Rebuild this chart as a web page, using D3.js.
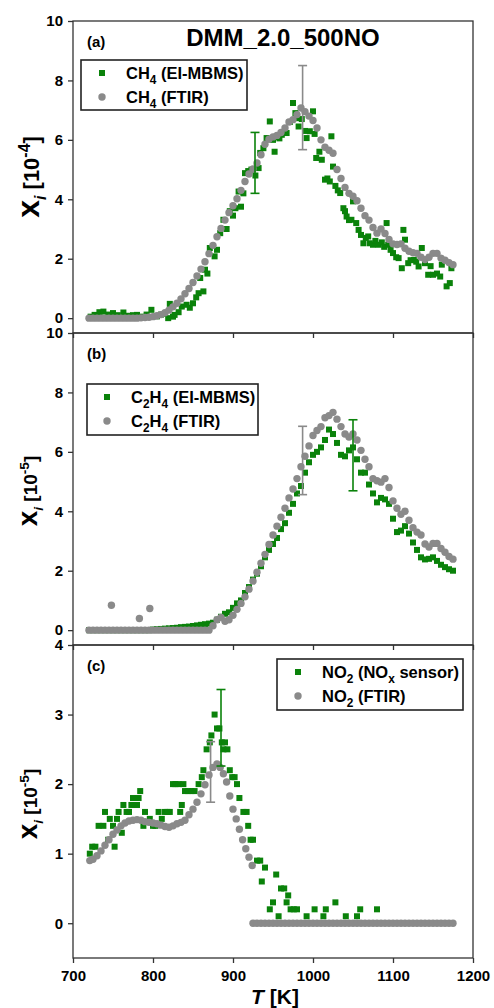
<!DOCTYPE html>
<html><head><meta charset="utf-8">
<script src="https://cdn.jsdelivr.net/npm/d3@7"></script>
<style>
body{margin:0;background:#fff}
svg{display:block}
text{font-family:"Liberation Sans",Arial,sans-serif;font-weight:bold;fill:#000}
</style>
</head><body><svg id="chart" width="494" height="1008"></svg>
<script>
// ---------------- DATA ----------------
const xTicks = [700, 800, 900, 1000, 1100, 1200];
const yTicksA = [0, 2, 4, 6, 8, 10];
const yTicksB = [0, 2, 4, 6, 8, 10];
const yTicksC = [0, 1, 2, 3, 4];

// (a) CH4, 10^-4
const ch4Ftir = [[720,0],[725,0],[730,0],[735,0],[740,0],[745,0],[750,0],[755,0],[760,0],[765,0],[770,0],[775,0],[780,0],[785,0.01],
[790,0.02],[795,0.03],[800,0.05],[805,0.08],[810,0.12],[815,0.18],[820,0.27],[825,0.38],[830,0.5],[835,0.65],[840,0.82],[845,1.0],
[850,1.2],[855,1.42],[860,1.65],[865,1.9],[870,2.17],[875,2.45],[880,2.74],[885,3.02],[890,3.3],[895,3.55],[900,3.78],[905,4.02],
[910,4.3],[915,4.6],[920,4.85],[925,5.02],[930,5.22],[935,5.5],[940,5.85],[945,6.02],[950,6.1],[955,6.15],[960,6.25],[965,6.4],
[970,6.6],[975,6.68],[980,6.85],[985,7.07],[990,6.95],[995,6.8],[1000,6.65],[1005,6.4],[1010,6.0],[1015,5.75],[1020,5.65],[1025,5.55],
[1030,5.0],[1035,4.7],[1040,4.4],[1045,4.2],[1050,4.1],[1055,3.95],[1060,3.7],[1065,3.45],[1070,3.3],[1075,3.05],[1080,2.86],[1085,3.0],
[1090,2.85],[1095,2.65],[1100,2.5],[1105,2.48],[1110,2.5],[1115,2.35],[1120,2.25],[1125,2.2],[1130,2.18],[1135,2.05],[1140,1.97],
[1145,2.05],[1150,2.18],[1155,2.18],[1160,2.02],[1165,1.95],[1170,1.87],[1175,1.8]];
const ch4Mbms = [[722,0.05],[727,0.11],[733,0.2],[738,0.22],[744,0.12],[750,0.17],[756,0.1],[763,0.19],[769,0.08],[775,0.1],[780,0.11],
[786,0.05],[792,0.12],[798,0.28],[805,0.06],[810,0.12],[815,0.15],[819,0.0],[821,0.48],[825,0.05],[827,0.11],[832,0.2],[836,0.39],
[842,0.45],[846,0.35],[850,0.5],[854,0.7],[857,0.84],[859,1.35],[863,0.9],[865,1.63],[868,1.5],[871,2.36],[877,2.08],[880,2.3],
[884,2.86],[888,3.31],[892,3.0],[896,3.6],[900,3.45],[903,3.7],[907,4.26],[910,3.75],[913,4.2],[915,4.88],[919,4.95],[923,5.0],
[928,4.8],[932,5.05],[934,5.56],[938,5.72],[942,6.06],[946,6.62],[950,6.0],[952,5.6],[954,6.1],[958,6.05],[961,6.17],[965,6.3],
[967,6.23],[971,6.6],[975,7.24],[978,6.9],[980,6.73],[982,6.45],[986,6.7],[990,6.3],[992,6.06],[996,6.29],[1000,6.96],[1002,6.2],
[1004,5.39],[1008,5.6],[1011,5.33],[1015,4.66],[1018,4.7],[1021,4.6],[1023,6.12],[1025,5.1],[1028,4.45],[1031,4.3],[1034,4.21],
[1038,3.7],[1040,3.6],[1042,3.42],[1045,3.3],[1048,3.31],[1050,3.93],[1054,3.2],[1057,2.97],[1060,2.8],[1063,2.52],[1066,2.7],
[1069,2.75],[1071,2.52],[1075,2.47],[1078,2.6],[1082,2.47],[1086,2.55],[1089,2.4],[1092,3.2],[1094,2.47],[1097,2.3],[1100,2.19],
[1104,2.05],[1107,2.02],[1111,1.68],[1113,2.97],[1115,2.64],[1119,1.85],[1122,1.95],[1126,1.96],[1129,1.9],[1132,1.74],[1136,2.36],
[1140,1.85],[1144,1.46],[1147,1.75],[1150,1.46],[1155,1.5],[1159,1.4],[1161,1.8],[1167,1.07],[1171,1.18],[1173,1.68]];
const ch4ErrMbms = [[927.5,4.2,6.25]];
const ch4ErrFtir = [[987,5.67,8.5]];

// (b) C2H4, 10^-5
const c2h4Ftir = [[720,0],[725,0],[730,0],[735,0],[740,0],[745,0],[748,0.84],[750,0],[755,0],[760,0],[765,0],[770,0],[775,0],[780,0],
[783,0.39],[785,0],[790,0],[795,0],[796,0.73],[800,0],[805,0],[810,0],[815,0],[820,0],[825,0],[830,0],[835,0],[840,0],[845,0],[850,0],
[855,0],[860,0],[865,0],[870,0],[875,0.15],[880,0.35],[885,0.43],[890,0.3],[895,0.35],[900,0.5],[905,0.7],[910,0.9],[915,1.12],
[920,1.38],[925,1.65],[930,1.95],[935,2.25],[940,2.55],[945,2.88],[950,3.2],[955,3.5],[960,3.8],[965,4.1],[970,4.45],[975,4.75],
[980,5.1],[985,5.5],[990,5.85],[995,6.2],[1000,6.55],[1005,6.72],[1010,6.85],[1015,7.15],[1020,7.22],[1025,7.33],[1030,7.1],
[1035,6.85],[1040,6.6],[1045,6.5],[1050,6.6],[1055,6.4],[1060,6.05],[1065,5.75],[1070,5.5],[1075,5.1],[1080,5.03],[1085,4.98],
[1090,5.1],[1095,4.8],[1100,4.35],[1105,4.1],[1110,3.9],[1115,4.0],[1120,3.7],[1125,3.45],[1130,3.3],[1135,3.2],[1140,2.9],
[1145,2.8],[1150,2.92],[1155,2.92],[1160,2.75],[1165,2.62],[1170,2.48],[1175,2.39]];
const c2h4Mbms = [[720,0],[725,0],[730,0],[735,0],[740,0],[745,0],[750,0],[755,0],[760,0],[765,0],[770,0],[775,0],[780,0],[785,0],
[790,0],[795,0],[800,0.02],[805,0.03],[810,0.04],[815,0.05],[820,0.06],[825,0.07],[830,0.08],[835,0.1],[840,0.11],[845,0.12],
[850,0.14],[855,0.16],[860,0.18],[865,0.2],[870,0.22],[875,0.25],[880,0.35],[885,0.45],[890,0.55],[895,0.6],[900,0.75],[905,0.9],
[910,1.0],[915,1.25],[920,1.45],[925,1.7],[930,1.9],[935,2.15],[940,2.45],[945,2.7],[950,2.9],[955,3.1],[960,3.4],[965,3.6],
[970,3.95],[975,4.25],[980,4.6],[985,4.85],[990,5.3],[995,5.65],[1000,5.9],[1005,6.0],[1010,6.15],[1015,6.4],[1020,6.75],[1025,6.6],
[1030,6.3],[1035,5.9],[1040,5.85],[1045,6.05],[1050,6.15],[1055,5.75],[1060,5.3],[1065,5.3],[1070,4.9],[1075,4.6],[1080,4.3],
[1085,4.45],[1090,4.4],[1095,4.25],[1100,3.75],[1105,3.3],[1110,3.35],[1115,3.5],[1120,3.25],[1125,2.95],[1130,2.7],[1135,2.45],
[1140,2.38],[1145,2.4],[1150,2.45],[1155,2.33],[1160,2.2],[1165,2.12],[1170,2.05],[1175,2.0]];
const c2h4ErrFtir = [[987,4.56,6.86]];
const c2h4ErrMbms = [[1050,4.69,7.08]];

// (c) NO2, 10^-5
const no2Ftir = [[721,0.9],[725,0.92],[730,0.97],[735,1.04],[740,1.12],[745,1.2],[750,1.28],[755,1.34],[760,1.4],[765,1.44],[770,1.47],
[775,1.48],[780,1.49],[785,1.48],[790,1.46],[795,1.45],[800,1.44],[805,1.43],[810,1.41],[815,1.39],[820,1.38],[825,1.4],[830,1.43],
[835,1.45],[840,1.48],[845,1.56],[850,1.64],[855,1.74],[860,1.86],[865,1.99],[870,2.13],[875,2.24],[880,2.29],[884,2.24],[888,2.15],
[892,2.03],[896,1.83],[900,1.64],[904,1.5],[908,1.35],[912,1.2],[916,1.07],[920,0.95],[924,0.83],
[925,0],[930,0],[935,0],[940,0],[945,0],[950,0],[955,0],[960,0],[965,0],[970,0],[975,0],[980,0],[985,0],[990,0],[995,0],[1000,0],
[1005,0],[1010,0],[1015,0],[1020,0],[1025,0],[1030,0],[1035,0],[1040,0],[1045,0],[1050,0],[1055,0],[1060,0],[1065,0],[1070,0],
[1075,0],[1080,0],[1085,0],[1090,0],[1095,0],[1100,0],[1105,0],[1110,0],[1115,0],[1120,0],[1125,0],[1130,0],[1135,0],[1140,0],
[1145,0],[1150,0],[1155,0],[1160,0],[1165,0],[1170,0],[1175,0]];
const no2Sensor = [[721,1.0],[724,1.1],[728,1.1],[732,1.4],[738,1.4],[740,1.6],[744,1.2],[746,1.5],[750,1.4],[752,1.1],[755,1.5],
[757,1.6],[761,1.3],[763,1.7],[767,1.6],[770,1.6],[773,1.7],[775,1.8],[780,1.7],[782,1.8],[784,1.9],[788,1.4],[790,1.6],[796,1.5],
[800,1.4],[803,1.4],[807,1.6],[811,1.5],[815,1.6],[818,1.6],[821,1.6],[825,2.0],[828,2.0],[832,2.0],[834,1.6],[836,1.7],[838,2.0],
[840,1.9],[844,1.9],[848,1.9],[852,1.9],[857,2.0],[861,2.1],[863,2.2],[867,2.5],[871,2.6],[873,2.7],[877,3.0],[880,2.8],[883,2.8],
[886,2.6],[888,2.5],[890,2.6],[893,2.5],[896,2.2],[899,2.1],[902,2.1],[905,2.0],[908,1.8],[913,1.6],[917,1.6],[919,1.4],[922,1.2],
[925,1.2],[930,0.9],[934,0.9],[936,0.6],[940,0.8],[946,0.2],[950,0.3],[954,0.7],[957,0.1],[960,0.5],[964,0.5],[967,0.3],[969,0.4],
[972,0.2],[976,0.2],[980,0.2],[992,0.1],[1002,0.2],[1013,0.1],[1016,0.2],[1028,0.3],[1041,0.1],[1055,0.1],[1059,0.2],[1080,0.2]];
const no2ErrFtir = [[872,1.74,2.61]];
const no2ErrSensor = [[885,2.26,3.36]];

// ---------------- DRAW ----------------
const GREEN = "#0a820a", GREY = "#8a8a8a", FRAME = "#333";
const svg = d3.select("#chart");
const x = d3.scaleLinear().domain([700, 1200]).range([73, 473]);

function rich(g, parts, fs) {
  const t = g.append("text").attr("font-size", fs);
  let shift = 0;
  parts.forEach(p => {
    const small = p.sub || p.sup;
    const sz = p.fs || (small ? fs * 0.72 : fs);
    const target = p.sub ? fs * 0.3 : p.sup ? -fs * 0.42 : 0;
    const ts = t.append("tspan").text(p.t).attr("font-size", sz).attr("dy", target - shift);
    shift = target;
    if (p.it) ts.attr("font-style", "italic");
  });
  return t;
}

const panels = [
  {top: 21, bottom: 333, domain: [-0.5, 10], ticks: yTicksA, green: ch4Mbms, grey: ch4Ftir,
   errG: ch4ErrMbms, errR: ch4ErrFtir, label: "(a)", ylab: {x: 39, y: 177, fs: 22, xfs: 32, exp: "-4"},
   legend: {x: 81, y: 60, w: 166, h: 50, mx: 102, tx: 126, rows: [
     [{t: "CH"}, {t: "4", sub: true}, {t: " (EI-MBMS)"}], [{t: "CH"}, {t: "4", sub: true}, {t: " (FTIR)"}]]}},
  {top: 333, bottom: 645, domain: [-0.5, 10], ticks: yTicksB, green: c2h4Mbms, grey: c2h4Ftir,
   errG: c2h4ErrMbms, errR: c2h4ErrFtir, label: "(b)", ylab: {x: 37, y: 491, fs: 19, xfs: 28, exp: "-5"},
   legend: {x: 87, y: 384, w: 171, h: 51, mx: 107, tx: 131, rows: [
     [{t: "C"}, {t: "2", sub: true}, {t: "H"}, {t: "4", sub: true}, {t: " (EI-MBMS)"}],
     [{t: "C"}, {t: "2", sub: true}, {t: "H"}, {t: "4", sub: true}, {t: " (FTIR)"}]]}},
  {top: 645, bottom: 958, domain: [-0.5, 4], ticks: yTicksC, green: no2Sensor, grey: no2Ftir,
   errG: no2ErrSensor, errR: no2ErrFtir, label: "(c)", ylab: {x: 37, y: 804, fs: 19, xfs: 28, exp: "-5"},
   legend: {x: 277, y: 659, w: 186, h: 51, mx: 298, tx: 322, rows: [
     [{t: "NO"}, {t: "2", sub: true}, {t: " (NO"}, {t: "x", sub: true}, {t: " sensor)"}],
     [{t: "NO"}, {t: "2", sub: true}, {t: " (FTIR)"}]]}}
];

panels.forEach((p, i) => {
  const y = d3.scaleLinear().domain(p.domain).range([p.bottom, p.top]);
  const g = svg.append("g");

  // data: green squares then grey circles
  const S = 6;
  g.append("g").selectAll("rect").data(p.green).join("rect")
    .attr("x", d => x(d[0]) - S / 2).attr("y", d => y(d[1]) - S / 2)
    .attr("width", S).attr("height", S).attr("fill", GREEN);
  g.append("g").selectAll("circle").data(p.grey).join("circle")
    .attr("cx", d => x(d[0])).attr("cy", d => y(d[1])).attr("r", 3.7).attr("fill", GREY);

  // error bars
  function errBars(data, col) {
    const eg = g.append("g").attr("stroke", col).attr("stroke-width", 1.6);
    data.forEach(d => {
      eg.append("line").attr("x1", x(d[0])).attr("x2", x(d[0])).attr("y1", y(d[1])).attr("y2", y(d[2]));
      eg.append("line").attr("x1", x(d[0]) - 4.5).attr("x2", x(d[0]) + 4.5).attr("y1", y(d[1])).attr("y2", y(d[1]));
      eg.append("line").attr("x1", x(d[0]) - 4.5).attr("x2", x(d[0]) + 4.5).attr("y1", y(d[2])).attr("y2", y(d[2]));
    });
  }
  errBars(p.errG, GREEN);
  errBars(p.errR, GREY);

  // frame
  g.append("rect").attr("x", x(700)).attr("y", p.top).attr("width", x(1200) - x(700))
    .attr("height", p.bottom - p.top).attr("fill", "none").attr("stroke", FRAME).attr("stroke-width", 1.3);

  // y axis
  const ya = g.append("g").attr("transform", `translate(${x(700)},0)`)
    .call(d3.axisLeft(y).tickValues(p.ticks).tickSize(5).tickSizeOuter(0).tickPadding(5).tickFormat(d3.format("d")));
  ya.select(".domain").remove();
  ya.selectAll("line").attr("stroke", FRAME).attr("stroke-width", 1.3);
  ya.selectAll("text").attr("font-size", 15).attr("font-family", "Liberation Sans, Arial, sans-serif").attr("font-weight", "bold").attr("fill", "#000");

  // x axis
  const xa = g.append("g").attr("transform", `translate(0,${p.bottom})`)
    .call(d3.axisBottom(x).tickValues(xTicks).tickSize(5).tickSizeOuter(0).tickPadding(7)
      .tickFormat(i === 2 ? d3.format("d") : () => ""));
  xa.select(".domain").remove();
  xa.selectAll("line").attr("stroke", FRAME).attr("stroke-width", 1.3);
  xa.selectAll("text").attr("font-size", 15).attr("font-family", "Liberation Sans, Arial, sans-serif").attr("font-weight", "bold").attr("fill", "#000");

  // panel label
  g.append("text").attr("x", 87).attr("y", p.top + 26).attr("font-size", 15).text(p.label);

  // y label
  const yl = g.append("g").attr("transform", `translate(${p.ylab.x},${p.ylab.y}) rotate(-90)`);
  rich(yl, [{t: "x", fs: p.ylab.xfs}, {t: "i", sub: true, it: true}, {t: " [10"}, {t: p.ylab.exp, sup: true}, {t: "]"}], p.ylab.fs)
    .attr("text-anchor", "middle");

  // legend
  const L = p.legend;
  const lg = g.append("g");
  lg.append("rect").attr("x", L.x).attr("y", L.y).attr("width", L.w).attr("height", L.h)
    .attr("fill", "#fff").attr("stroke", "#222").attr("stroke-width", 1.6);
  L.rows.forEach((row, r) => {
    const cy = L.y + 13 + r * 24;
    if (r === 0) lg.append("rect").attr("x", L.mx - 3).attr("y", cy - 3).attr("width", 6).attr("height", 6).attr("fill", GREEN);
    else lg.append("circle").attr("cx", L.mx).attr("cy", cy).attr("r", 3.7).attr("fill", GREY);
    rich(lg, row, 16.5).attr("x", L.tx).attr("y", cy + 6);
  });
});

// title
svg.append("text").attr("x", 283).attr("y", 46).attr("text-anchor", "middle").attr("font-size", 24).text("DMM_2.0_500NO");

// x axis title
rich(svg.append("g"), [{t: "T", it: true}, {t: " [K]"}], 21).attr("x", 275).attr("y", 1004).attr("text-anchor", "middle");
</script>
</body></html>
